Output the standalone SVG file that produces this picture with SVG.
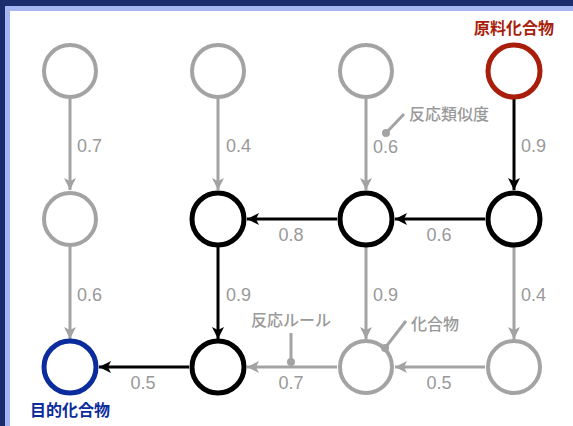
<svg xmlns="http://www.w3.org/2000/svg" width="573" height="426" viewBox="0 0 573 426">
<style>
.g{fill:none;stroke:#a3a3a3;stroke-width:4}
.k{fill:none;stroke:#000;stroke-width:5}
.cg{stroke:#a3a3a3;stroke-width:3;fill:none}
.ck{stroke:#000;stroke-width:3;fill:none}
.n{font-family:"Liberation Sans",Arial,sans-serif;font-size:18px;fill:#999}
.a{font-family:"Noto Sans CJK JP","Noto Sans CJK SC",sans-serif;font-size:16px;font-weight:500;fill:#999}
.t{font-family:"Noto Sans CJK JP","Noto Sans CJK SC",sans-serif;font-size:16px;font-weight:bold;text-anchor:middle}
</style>
<defs>
<marker id="ag" markerUnits="userSpaceOnUse" markerWidth="12" markerHeight="12" viewBox="0 0 10 10" refX="10" refY="5" orient="auto"><path d="M0,0 L10,5 L0,10 L2.5,5 z" fill="#a3a3a3"/></marker>
<marker id="ak" markerUnits="userSpaceOnUse" markerWidth="12" markerHeight="12" viewBox="0 0 10 10" refX="10" refY="5" orient="auto"><path d="M0,0 L10,5 L0,10 L2.5,5 z" fill="#000"/></marker>
</defs>
<rect x="0" y="0" width="573" height="426" fill="#1b2d6c"/>
<rect x="5" y="6" width="568" height="420" fill="#a6b6f2"/>
<rect x="10" y="11" width="563" height="415" fill="#fff"/>
<g id="connectors">
<line class="cg" x1="70" y1="99" x2="70" y2="190" marker-end="url(#ag)"/>
<line class="cg" x1="218" y1="99" x2="218" y2="190" marker-end="url(#ag)"/>
<line class="cg" x1="366" y1="99" x2="366" y2="190" marker-end="url(#ag)"/>
<line class="ck" x1="514" y1="99" x2="514" y2="190" marker-end="url(#ak)"/>
<line class="ck" x1="485" y1="219" x2="395" y2="219" marker-end="url(#ak)"/>
<line class="ck" x1="337" y1="219" x2="247" y2="219" marker-end="url(#ak)"/>
<line class="cg" x1="70" y1="247" x2="70" y2="339" marker-end="url(#ag)"/>
<line class="ck" x1="218" y1="247" x2="218" y2="339" marker-end="url(#ak)"/>
<line class="cg" x1="366" y1="247" x2="366" y2="339" marker-end="url(#ag)"/>
<line class="cg" x1="514" y1="247" x2="514" y2="339" marker-end="url(#ag)"/>
<line class="cg" x1="485" y1="367" x2="395" y2="367" marker-end="url(#ag)"/>
<line class="cg" x1="337" y1="367" x2="247" y2="367" marker-end="url(#ag)"/>
<line class="ck" x1="189" y1="367" x2="99" y2="367" marker-end="url(#ak)"/>
<text class="n" x="77" y="152">0.7</text>
<text class="n" x="226" y="152">0.4</text>
<text class="n" x="373" y="153">0.6</text>
<text class="n" x="521" y="152">0.9</text>
<text class="n" x="291" y="241" text-anchor="middle">0.8</text>
<text class="n" x="439" y="241" text-anchor="middle">0.6</text>
<text class="n" x="77" y="301">0.6</text>
<text class="n" x="226" y="301">0.9</text>
<text class="n" x="373" y="301">0.9</text>
<text class="n" x="521" y="301">0.4</text>
<text class="n" x="143" y="389" text-anchor="middle">0.5</text>
<text class="n" x="291" y="389" text-anchor="middle">0.7</text>
<text class="n" x="439" y="389" text-anchor="middle">0.5</text>
</g>
<g id="annotations">
<line class="cg" x1="386" y1="133" x2="404" y2="114"/>
<circle cx="386" cy="133" r="4" fill="#a3a3a3"/>
<text class="a" x="409" y="120">反応類似度</text>
<line class="cg" x1="291" y1="333" x2="291" y2="362"/>
<circle cx="291" cy="362" r="4" fill="#a3a3a3"/>
<text class="a" x="251" y="326">反応ルール</text>
<line class="cg" x1="406" y1="321" x2="385" y2="348"/>
<circle cx="385" cy="348" r="4" fill="#a3a3a3"/>
<text class="a" x="411" y="330">化合物</text>
</g>
<g id="n11"><circle class="g" cx="70" cy="71" r="26"/></g>
<g id="n12"><circle class="g" cx="218" cy="71" r="26"/></g>
<g id="n13"><circle class="g" cx="366" cy="71" r="26"/></g>
<g id="n14"><circle cx="514" cy="71" r="26" fill="none" stroke="#a81e0a" stroke-width="5"/><text class="t" x="514" y="34" fill="#a81e0a">原料化合物</text></g>
<g id="n21"><circle class="g" cx="70" cy="219" r="26"/></g>
<g id="n22"><circle class="k" cx="218" cy="219" r="26"/></g>
<g id="n23"><circle class="k" cx="366" cy="219" r="26"/></g>
<g id="n24"><circle class="k" cx="514" cy="219" r="26"/></g>
<g id="n31"><circle cx="70" cy="367" r="26" fill="none" stroke="#0a2c9c" stroke-width="5"/><text class="t" x="70" y="416" fill="#0a2c9c">目的化合物</text></g>
<g id="n32"><circle class="k" cx="218" cy="367" r="26"/></g>
<g id="n33"><circle class="g" cx="366" cy="367" r="26"/></g>
<g id="n34"><circle class="g" cx="514" cy="367" r="26"/></g>
</svg>
